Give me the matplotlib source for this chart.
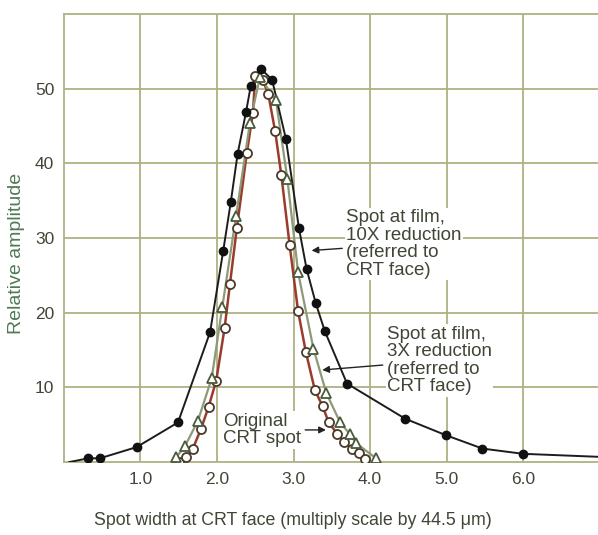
import matplotlib
matplotlib.use("Agg")
import matplotlib.pyplot as plt

plt.rcParams['font.family'] = ['Liberation Sans', 'DejaVu Sans']

# Spot at film, 10X reduction (filled circles)
x_10x = [0.07, 0.32, 0.47, 0.95, 1.49, 1.91, 2.08, 2.18, 2.27, 2.38, 2.44, 2.58, 2.72,
         2.90, 3.07, 3.17, 3.29, 3.41, 3.70, 4.46, 4.99, 5.47, 6.00, 6.98]
y_10x = [0.0, 0.5, 0.5, 2.0, 5.3, 17.4, 28.2, 34.8, 41.3, 46.9, 50.3, 52.6, 51.2,
         43.3, 31.4, 25.9, 21.3, 17.5, 10.5, 5.8, 3.6, 1.8, 1.1, 0.7]
# first and last entries are only line ends, no marker
m_10x = list(range(1, len(x_10x) - 1))

# Spot at film, 3X reduction (open triangles)
x_3x = [1.47, 1.58, 1.75, 1.93, 2.07, 2.25, 2.43, 2.56, 2.77, 2.92, 3.06, 3.26, 3.43,
        3.61, 3.74, 3.82, 4.08]
y_3x = [0.7, 2.1, 5.5, 11.2, 20.8, 33.0, 45.4, 51.5, 48.5, 37.9, 25.4, 15.2, 9.2,
        5.3, 3.7, 2.5, 0.5]

# Original CRT spot (open circles)
x_orig = [1.50, 1.60, 1.68, 1.79, 1.89, 1.99, 2.10, 2.17, 2.26, 2.39, 2.47, 2.50, 2.60,
          2.67, 2.76, 2.84, 2.95, 3.06, 3.16, 3.28, 3.38, 3.46, 3.57, 3.66, 3.76, 3.85, 3.93]
y_orig = [0.0, 0.7, 1.7, 4.4, 7.4, 10.9, 18.0, 23.9, 31.4, 41.4, 46.8, 51.7, 51.1,
          49.3, 44.3, 38.5, 29.0, 20.2, 14.8, 9.6, 7.5, 5.3, 3.8, 2.7, 1.8, 1.2, 0.4]

x_ticks = [1.0, 2.0, 3.0, 4.0, 5.0, 6.0]
y_ticks = [10, 20, 30, 40, 50]

grid_c = '#b0b185'
text_c = '#3f4636'

fig = plt.figure(figsize=(5.98, 5.35), dpi=100)
ax = fig.add_axes([0.107, 0.1364, 0.893, 0.8374])

ax.set_xlim(0, 6.98)
ax.set_ylim(0, 60)
ax.set_xticks(x_ticks)
ax.set_xticklabels(['%.1f' % v for v in x_ticks])
ax.set_yticks(y_ticks)
ax.grid(True, color=grid_c, lw=1.3)
ax.set_axisbelow(True)
ax.tick_params(length=0, labelsize=12.5, colors=text_c, pad=7)
for s in ['left', 'top', 'bottom']:
    ax.spines[s].set_color(grid_c)
    ax.spines[s].set_linewidth(1.3)
ax.spines['right'].set_visible(False)

ax.plot(x_orig, y_orig, '-', color='#9a3b2c', lw=1.8, zorder=3)
ax.plot(x_3x, y_3x, '-', color='#8c9a78', lw=1.6, zorder=3)
ax.plot(x_10x, y_10x, '-', color='#1c1c1c', lw=1.4, zorder=4)

ax.plot(x_orig, y_orig, 'o', ms=6.5, mfc='white', mec='#4a3a2a', mew=1.3, zorder=5)
ax.plot(x_3x, y_3x, '^', ms=7, mfc='white', mec='#4a5a3a', mew=1.3, zorder=5)
ax.plot(x_10x, y_10x, 'o', ms=6, color='#111111', markevery=m_10x, zorder=6)

box = dict(facecolor='white', edgecolor='none', pad=1)
arrow = dict(arrowstyle='-|>', color='#222222', lw=1.0, mutation_scale=10)
ax.annotate('Spot at film,\n10X reduction\n(referred to\nCRT face)',
            xy=(3.20, 28.3), xytext=(3.69, 29.2), fontsize=13.5, color=text_c,
            ha='left', va='center', linespacing=1.05, bbox=box, arrowprops=arrow)
ax.annotate('Spot at film,\n3X reduction\n(referred to\nCRT face)',
            xy=(3.34, 12.3), xytext=(4.22, 13.6), fontsize=13.5, color=text_c,
            ha='left', va='center', linespacing=1.05, bbox=box, arrowprops=arrow)
ax.annotate('Original\nCRT spot',
            xy=(3.46, 4.3), xytext=(2.08, 4.3), fontsize=13.5, color=text_c,
            ha='left', va='center', linespacing=1.05, bbox=box, arrowprops=arrow)

fig.text(0.49, 0.028, 'Spot width at CRT face (multiply scale by 44.5 μm)',
         fontsize=12.8, color=text_c, ha='center', va='center')
fig.text(0.027, 0.527, 'Relative amplitude', fontsize=14, color='#4f7a55',
         rotation=90, ha='center', va='center')

fig.savefig('out.png', dpi=100)
